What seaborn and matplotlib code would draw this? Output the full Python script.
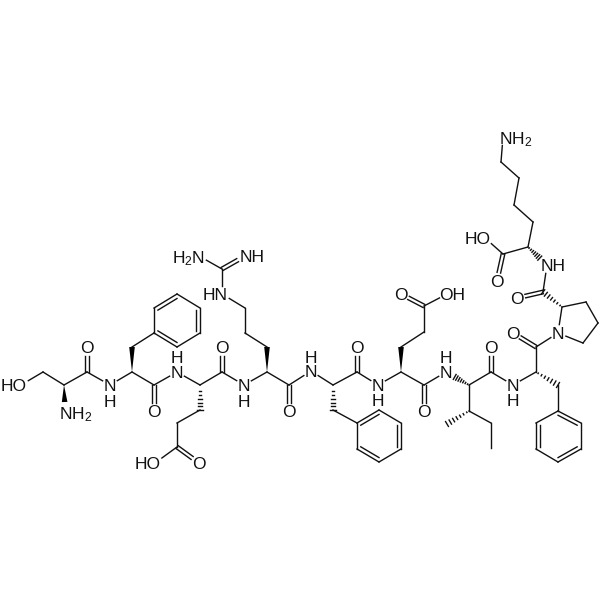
import matplotlib
matplotlib.use("Agg")
import matplotlib.pyplot as plt
import numpy as np
import pandas as pd
import seaborn as sns

# atom positions (pixels)
atom_names = [
    "ser_o", "ser_cb", "ser_ca", "ser_n", "ser_c", "ser_co",
    "n1", "f1_ca", "f1_cb", "f1_r1", "f1_r2", "f1_r3", "f1_r4", "f1_r5", "f1_r6", "f1_c", "f1_co",
    "n2", "e1_ca", "e1_cb", "e1_cg", "e1_cd", "e1_oh", "e1_oe", "e1_c", "e1_co",
    "n3", "r_ca", "r_cb", "r_cg", "r_cd", "r_ne", "r_cz", "r_nh", "r_nh2", "r_c", "r_co",
    "n4", "f2_ca", "f2_cb", "f2_r1", "f2_r2", "f2_r3", "f2_r4", "f2_r5", "f2_r6", "f2_c", "f2_co",
    "n5", "e2_ca", "e2_cb", "e2_cg", "e2_cd", "e2_oe", "e2_oh", "e2_c", "e2_co",
    "n6", "i_ca", "i_cb", "i_me", "i_cg", "i_cd", "i_c", "i_co",
    "n7", "f3_ca", "f3_cb", "f3_r1", "f3_r2", "f3_r3", "f3_r4", "f3_r5", "f3_r6", "f3_c", "f3_co",
    "p_n", "p_ca", "p_cb", "p_cg", "p_cd", "p_c", "p_co",
    "n8", "k_ca", "k_c", "k_co", "k_oh", "k_cb", "k_cg", "k_cd", "k_ce", "k_nz",
]
atom_x = [
    21, 43, 64, 65, 87, 87,
    110, 132, 132, 154, 154, 177, 200, 200, 177, 154, 154,
    177, 200, 200, 177, 177, 155, 199, 222, 222,
    244, 267, 267, 245, 245, 222, 222, 245, 199, 289, 289,
    311, 333, 333, 357, 357, 379, 401, 401, 379, 357, 357,
    378, 401, 401, 424, 424, 401, 447, 424, 424,
    446, 469, 469, 447, 491, 491, 491, 491,
    513, 536, 558, 558, 581, 581, 558, 536, 536, 536, 513,
    558, 562, 586, 598, 583, 543, 517,
    547, 528, 503, 497, 485, 533, 514, 519, 501, 503,
]
atom_y = [
    385, 372, 385, 412, 372, 347,
    385, 372, 347, 333, 308, 294, 308, 333, 347, 385, 411,
    372, 385, 410, 423, 447, 463, 463, 372, 347,
    385, 372, 347, 333, 308, 294, 269, 256, 256, 385, 411,
    371, 385, 410, 423, 449, 462, 449, 423, 410, 372, 347,
    385, 372, 347, 332, 306, 294, 294, 385, 411,
    372, 385, 411, 424, 423, 448, 372, 347,
    385, 372, 385, 411, 423, 449, 462, 449, 423, 347, 333,
    333, 307, 302, 323, 343, 292, 298,
    265, 247, 254, 281, 238, 222, 205, 178, 162, 137,
]

single_bonds = [
    ("ser_o", "ser_cb"), ("ser_cb", "ser_ca"), ("ser_ca", "ser_c"), ("ser_c", "n1"), ("n1", "f1_ca"),
    ("f1_ca", "f1_c"), ("f1_cb", "f1_r1"), ("f1_c", "n2"), ("n2", "e1_ca"), ("e1_ca", "e1_c"),
    ("e1_cb", "e1_cg"), ("e1_cg", "e1_cd"), ("e1_cd", "e1_oh"), ("e1_c", "n3"), ("n3", "r_ca"),
    ("r_ca", "r_c"), ("r_cb", "r_cg"), ("r_cg", "r_cd"), ("r_cd", "r_ne"), ("r_ne", "r_cz"),
    ("r_cz", "r_nh2"), ("r_c", "n4"), ("n4", "f2_ca"), ("f2_ca", "f2_c"), ("f2_cb", "f2_r1"),
    ("f2_c", "n5"), ("n5", "e2_ca"), ("e2_ca", "e2_c"), ("e2_cb", "e2_cg"), ("e2_cg", "e2_cd"),
    ("e2_cd", "e2_oh"), ("e2_c", "n6"), ("i_ca", "i_c"), ("i_ca", "i_cb"), ("i_cb", "i_cg"),
    ("i_cg", "i_cd"), ("i_c", "n7"), ("n7", "f3_ca"), ("f3_ca", "f3_c"), ("f3_cb", "f3_r1"),
    ("f3_c", "p_n"), ("p_n", "p_ca"), ("p_ca", "p_cb"), ("p_cb", "p_cg"), ("p_cg", "p_cd"),
    ("p_cd", "p_n"), ("p_c", "n8"), ("k_ca", "k_c"), ("k_c", "k_oh"), ("k_ca", "k_cb"),
    ("k_cb", "k_cg"), ("k_cg", "k_cd"), ("k_cd", "k_ce"), ("k_ce", "k_nz"),
]
double_bonds = [
    ("ser_c", "ser_co"), ("f1_c", "f1_co"), ("e1_cd", "e1_oe"), ("e1_c", "e1_co"), ("r_cz", "r_nh"),
    ("r_c", "r_co"), ("f2_c", "f2_co"), ("e2_cd", "e2_oe"), ("e2_c", "e2_co"), ("i_c", "i_co"),
    ("f3_c", "f3_co"), ("p_c", "p_co"), ("k_c", "k_co"),
]
rings = [
    ["f1_r1", "f1_r2", "f1_r3", "f1_r4", "f1_r5", "f1_r6"],
    ["f2_r1", "f2_r2", "f2_r3", "f2_r4", "f2_r5", "f2_r6"],
    ["f3_r1", "f3_r2", "f3_r3", "f3_r4", "f3_r5", "f3_r6"],
]
wedge_bonds = [("ser_ca", "ser_n"), ("f1_ca", "f1_cb"), ("r_ca", "r_cb"), ("e2_ca", "e2_cb")]
hash_bonds = [
    ("e1_ca", "e1_cb"), ("f2_ca", "f2_cb"), ("i_ca", "n6"), ("i_cb", "i_me"),
    ("f3_ca", "f3_cb"), ("p_ca", "p_c"), ("k_ca", "n8"),
]

labels = ["HO", "NH$_2$", "O", "N", "H", "O", "N", "H", "HO", "O", "O", "N", "H", "HN", "NH", "H$_2$N", "O",
          "N", "H", "O", "N", "H", "O", "OH", "O", "N", "H", "O", "N", "H", "O", "N", "O", "NH", "HO", "O", "NH$_2$"]
label_x = [14, 76, 87, 110, 110, 154, 177, 177, 148, 199, 222, 244, 244, 215, 252, 189, 289,
           311, 311, 357, 378, 378, 401, 452, 424, 446, 446, 491, 513, 513, 513, 558, 517, 553, 478, 497, 516]
label_y = [385, 412, 347, 385, 401, 411, 372, 357, 463, 463, 347, 385, 401, 294, 256, 256, 411,
           371, 357, 347, 385, 400, 294, 294, 411, 372, 357, 347, 385, 400, 333, 333, 298, 265, 238, 281, 137]

hetero = {"ser_o", "ser_n", "ser_co", "n1", "f1_co", "n2", "e1_oh", "e1_oe", "e1_co", "n3", "r_ne", "r_nh",
          "r_nh2", "r_co", "n4", "f2_co", "n5", "e2_oe", "e2_oh", "e2_co", "n6", "i_co", "n7", "f3_co", "p_n",
          "p_co", "n8", "k_co", "k_oh", "k_nz"}

pos = {n: np.array([x, y], dtype=float) for n, x, y in zip(atom_names, atom_x, atom_y)}


def trimmed(a, b, gap=8.5):
    p, q = pos[a].copy(), pos[b].copy()
    u = (q - p) / np.linalg.norm(q - p)
    if a in hetero:
        p = p + u * gap
    if b in hetero:
        q = q - u * gap
    return p, q, u


# collect every stroke as one row group for seaborn
rows = []
def add_stroke(p, q):
    k = len(rows)
    rows.append({"bond": k, "x": p[0], "y": p[1]})
    rows.append({"bond": k, "x": q[0], "y": q[1]})


for a, b in single_bonds:
    p, q, u = trimmed(a, b)
    add_stroke(p, q)
for a, b in double_bonds:
    p, q, u = trimmed(a, b)
    n = np.array([-u[1], u[0]]) * 1.8
    add_stroke(p + n, q + n)
    add_stroke(p - n, q - n)
for ring in rings:
    c = np.mean([pos[n] for n in ring], axis=0)
    for i, a in enumerate(ring):
        b = ring[(i + 1) % 6]
        add_stroke(pos[a], pos[b])
        if i % 2 == (1 if ring[0].startswith(("f1", "f2")) else 0):
            p, q = pos[a], pos[b]
            p2 = p + (c - p) * 0.17
            q2 = q + (c - q) * 0.17
            add_stroke(p2, q2)
for a, b in hash_bonds:
    p, q, u = trimmed(a, b, gap=10)
    n = np.array([-u[1], u[0]])
    for t in np.linspace(0.1, 1, 7):
        m = p + (q - p) * t
        add_stroke(m - n * 2.8 * t, m + n * 2.8 * t)

bonds = pd.DataFrame(rows)

fig = plt.figure(figsize=(6, 6), dpi=100)
ax = fig.add_axes([0, 0, 1, 1])
sns.lineplot(data=bonds, x="x", y="y", units="bond", estimator=None, sort=False,
             color="#111111", linewidth=1.0, legend=False, ax=ax)
for a, b in wedge_bonds:
    p, q, u = trimmed(a, b, gap=10)
    n = np.array([-u[1], u[0]]) * 2.8
    tri = np.array([p, q + n, q - n])
    ax.fill(tri[:, 0], tri[:, 1], color="#000000", lw=0)

plt.rcParams["mathtext.default"] = "regular"
for t, x, y in zip(labels, label_x, label_y):
    ax.text(x, y, t, ha="center", va="center_baseline", fontsize=12.5, color="#111111",
            family=["Liberation Sans", "DejaVu Sans"])

ax.set_xlim(0, 600)
ax.set_ylim(600, 0)
ax.axis("off")
fig.savefig("out.png", dpi=100, facecolor="white")
